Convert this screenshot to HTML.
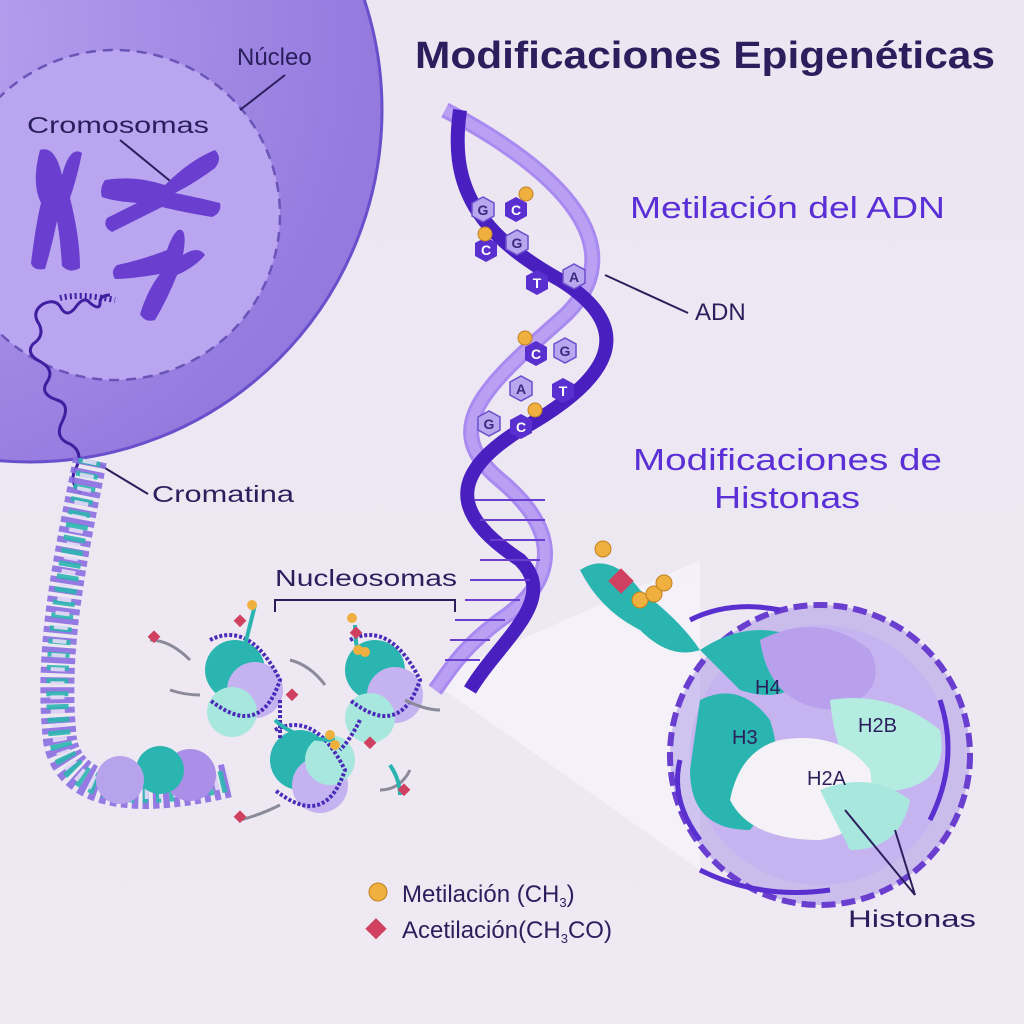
<!DOCTYPE html>
<html><head><meta charset="utf-8"><style>
html,body{margin:0;padding:0;background:#ece7f1;}
svg{display:block}
text{font-family:"Liberation Sans",sans-serif}
</style></head><body>
<svg width="1024" height="1024" viewBox="0 0 1024 1024" xmlns="http://www.w3.org/2000/svg">
<defs>
<radialGradient id="cell" cx="0.3" cy="0.4" r="0.7">
<stop offset="0" stop-color="#bba6f0"/><stop offset="1" stop-color="#9479de"/></radialGradient>
<linearGradient id="bg" x1="0" y1="0" x2="0" y2="1"><stop offset="0" stop-color="#ebe6f1"/><stop offset="1" stop-color="#eee9f3"/></linearGradient>
</defs>
<rect width="1024" height="1024" fill="url(#bg)"/>
<polygon points="430,680 700,560 700,870" fill="#f6f3f9" opacity="0.8"/>
<circle cx="30" cy="110" r="352" fill="url(#cell)" stroke="#6a4fcc" stroke-width="3"/>
<circle cx="115" cy="215" r="165" fill="#b9a5f0" stroke="#6a54b8" stroke-width="2.5" stroke-dasharray="10,7"/>
<text x="237" y="65" font-size="24" fill="#2a1f5c">Núcleo</text>
<line x1="285" y1="75" x2="240" y2="110" stroke="#2a1f5c" stroke-width="2"/>
<text x="27" y="133" font-size="23" fill="#2a1f5c" textLength="182" lengthAdjust="spacingAndGlyphs">Cromosomas</text>
<line x1="120" y1="140" x2="175" y2="185" stroke="#2a1f5c" stroke-width="2"/>
<g fill="#6a3fd0">
<path d="M40,150 q15,-5 22,25 q8,-30 20,-22 q-5,25 -12,45 q10,40 10,70 q-10,6 -18,-2 q-2,-30 -5,-45 q-5,25 -12,48 q-12,2 -14,-6 q5,-40 10,-60 q-10,-20 -1,-53z"/>
<path d="M105,180 q30,-5 60,5 q25,-25 50,-35 q8,8 0,18 q-20,15 -40,25 q25,5 45,10 q2,10 -8,14 q-30,-5 -50,-10 q-30,15 -50,25 q-10,-5 -5,-14 q20,-10 30,-15 q-25,-2 -35,-6 q-3,-8 3,-17z"/>
<path d="M178,230 q10,-3 5,25 q15,-10 22,0 q-10,12 -28,20 q-10,25 -22,45 q-10,3 -15,-6 q8,-25 20,-40 q-30,5 -45,5 q-5,-8 2,-14 q25,-5 50,-15 q5,-15 11,-20z"/>
</g>
<path d="M110,295 q-10,0 -10,8 q0,8 -10,0 q-6,-8 -15,5 q-8,10 -14,0 q-5,-10 -18,-4 q-12,8 -4,20 q6,12 -6,20 q-8,10 8,18 q14,8 6,20 q-8,12 10,18 q14,4 5,22 q-8,16 8,22 q14,8 6,24 q-8,14 5,25" fill="none" stroke="#3d1fa0" stroke-width="3"/>
<path d="M60,298 q20,-5 55,2" fill="none" stroke="#3d1fa0" stroke-width="6" stroke-dasharray="2,3"/>
<text x="152" y="502" font-size="23" fill="#2a1f5c" textLength="142" lengthAdjust="spacingAndGlyphs">Cromatina</text>
<line x1="148" y1="494" x2="95" y2="462" stroke="#2a1f5c" stroke-width="2"/>
<g>
<path d="M90,460 C70,560 50,650 60,740 C70,800 150,800 230,780" fill="none" stroke="#8a6ee0" stroke-width="34" stroke-dasharray="6,4" opacity="0.9"/>
<path d="M90,460 C70,560 50,650 60,740 C70,800 150,800 230,780" fill="none" stroke="#2bb5b0" stroke-width="22" stroke-dasharray="5,8" opacity="0.9"/>
<path d="M90,460 C70,560 50,650 60,740 C70,800 150,800 230,780" fill="none" stroke="#e4dcf5" stroke-width="14" stroke-dasharray="4,10" opacity="0.9"/>
<circle cx="190" cy="775" r="26" fill="#a98fe8"/><circle cx="160" cy="770" r="24" fill="#2bb5b0"/><circle cx="120" cy="780" r="24" fill="#b7a2ec"/>
</g>
<text x="275" y="586" font-size="23" fill="#2a1f5c" textLength="182" lengthAdjust="spacingAndGlyphs">Nucleosomas</text>
<path d="M275,612 v-12 h180 v12" fill="none" stroke="#2a1f5c" stroke-width="2"/>
<g>
<circle cx="235" cy="670" r="30" fill="#2bb5b0"/><circle cx="255" cy="690" r="28" fill="#c4b3f0"/><circle cx="232" cy="712" r="25" fill="#a8e7dd"/>
<circle cx="375" cy="670" r="30" fill="#2bb5b0"/><circle cx="395" cy="695" r="28" fill="#c4b3f0"/><circle cx="370" cy="718" r="25" fill="#a8e7dd"/>
<circle cx="300" cy="760" r="30" fill="#2bb5b0"/><circle cx="320" cy="785" r="28" fill="#c4b3f0"/><circle cx="330" cy="760" r="25" fill="#a8e7dd"/>
<path d="M210,640 q40,-20 70,40 q-20,60 -70,20 M350,640 q40,-20 70,40 q-20,60 -70,20 M275,730 q40,-20 70,40 q-20,60 -70,20 M280,700 q0,30 0,40 M360,720 q-10,20 -20,30" fill="none" stroke="#4a2ab8" stroke-width="4" stroke-dasharray="3,2"/>
<g fill="none" stroke="#8a8a9a" stroke-width="3">
<path d="M150,640 q20,0 40,20"/><path d="M170,690 q15,5 30,5"/><path d="M290,660 q20,5 35,25"/><path d="M440,710 q-15,0 -35,-10"/><path d="M240,820 q20,-5 40,-15"/><path d="M380,790 q20,0 30,-20"/>
</g>
<g fill="none" stroke="#2bb5b0" stroke-width="4"><path d="M255,605 q-5,20 -10,40"/><path d="M355,625 q0,20 5,35"/><path d="M335,740 q-40,0 -60,-20"/><path d="M400,795 q0,-15 -10,-30"/></g>
<g fill="#d04060"><rect x="150" y="632" width="9" height="9" transform="rotate(45 154 636)"/><rect x="236" y="616" width="9" height="9" transform="rotate(45 240 620)"/><rect x="288" y="690" width="9" height="9" transform="rotate(45 292 694)"/><rect x="236" y="812" width="9" height="9" transform="rotate(45 240 816)"/><rect x="400" y="785" width="9" height="9" transform="rotate(45 404 789)"/><rect x="352" y="628" width="9" height="9" transform="rotate(45 356 632)"/><rect x="366" y="738" width="9" height="9" transform="rotate(45 370 742)"/></g>
<g fill="#f0b040"><circle cx="252" cy="605" r="5"/><circle cx="352" cy="618" r="5"/><circle cx="358" cy="650" r="5"/><circle cx="365" cy="652" r="5"/><circle cx="330" cy="735" r="5"/><circle cx="335" cy="745" r="5"/></g>
</g>
<g fill="none">
<path d="M445,110 C560,170 640,250 560,320 C480,390 440,430 500,480 C560,530 560,580 500,620 C460,650 450,670 435,690" stroke="#a88af0" stroke-width="16"/>
<path d="M445,110 C560,170 640,250 560,320 C480,390 440,430 500,480 C560,530 560,580 500,620 C460,650 450,670 435,690" stroke="#b9a0f3" stroke-width="10"/>
<path d="M460,110 C450,180 470,230 560,280 C640,330 610,380 520,430 C440,480 460,520 520,560 C560,600 500,640 470,690" stroke="#4a1fc0" stroke-width="14"/>
<path d="M475,500 h70 M480,520 h65 M490,540 h55 M480,560 h60 M470,580 h60 M465,600 h55 M455,620 h50 M450,640 h40 M445,660 h35" stroke="#6a3fd0" stroke-width="2"/>
</g>
<g font-size="14" font-weight="bold" text-anchor="middle">
<g fill="#b8a6ee" stroke="#6a4fcc" stroke-width="1.5"><polygon points="472,203 483,197 494,203 494,216 483,222 472,216"/><polygon points="506,236 517,230 528,236 528,249 517,255 506,249"/><polygon points="554,344 565,338 576,344 576,357 565,363 554,357"/><polygon points="510,382 521,376 532,382 532,395 521,401 510,395"/><polygon points="478,417 489,411 500,417 500,430 489,436 478,430"/><polygon points="563,270 574,264 585,270 585,283 574,289 563,283"/></g>
<g fill="#5a2fd0"><polygon points="505,203 516,197 527,203 527,216 516,222 505,216"/><polygon points="475,243 486,237 497,243 497,256 486,262 475,256"/><polygon points="526,276 537,270 548,276 548,289 537,295 526,289"/><polygon points="525,347 536,341 547,347 547,360 536,366 525,360"/><polygon points="552,384 563,378 574,384 574,397 563,403 552,397"/><polygon points="510,420 521,414 532,420 532,433 521,439 510,433"/></g>
<text x="483" y="215" fill="#3a2a80">G</text><text x="516" y="215" fill="#fff">C</text><text x="486" y="255" fill="#fff">C</text><text x="517" y="248" fill="#3a2a80">G</text><text x="537" y="288" fill="#fff">T</text><text x="574" y="282" fill="#3a2a80">A</text><text x="536" y="359" fill="#fff">C</text><text x="565" y="356" fill="#3a2a80">G</text><text x="521" y="394" fill="#3a2a80">A</text><text x="563" y="396" fill="#fff">T</text><text x="489" y="429" fill="#3a2a80">G</text><text x="521" y="432" fill="#fff">C</text>
</g>
<g fill="#f0b040" stroke="#c08020"><circle cx="526" cy="194" r="7"/><circle cx="485" cy="234" r="7"/><circle cx="525" cy="338" r="7"/><circle cx="535" cy="410" r="7"/></g>
<line x1="605" y1="275" x2="688" y2="313" stroke="#2a1f5c" stroke-width="2"/>
<text x="695" y="320" font-size="24" fill="#2a1f5c">ADN</text>
<text x="415" y="68" font-size="38" font-weight="bold" fill="#2a1f5c" textLength="580" lengthAdjust="spacingAndGlyphs">Modificaciones Epigenéticas</text>
<text x="630" y="218" font-size="31" fill="#5b2fd6" textLength="315" lengthAdjust="spacingAndGlyphs">Metilación del ADN</text>
<text x="633" y="470" font-size="31" fill="#5b2fd6" textLength="309" lengthAdjust="spacingAndGlyphs">Modificaciones de</text>
<text x="714" y="508" font-size="31" fill="#5b2fd6" textLength="146" lengthAdjust="spacingAndGlyphs">Histonas</text>
<g>
<circle cx="820" cy="755" r="150" fill="#8a6ee0" opacity="0.35"/>
<circle cx="820" cy="755" r="150" fill="none" stroke="#6a3fd0" stroke-width="6" stroke-dasharray="14,6"/>
<circle cx="820" cy="755" r="130" fill="#c6b4f0"/>
<path d="M700,650 q60,-40 120,0 q-20,60 -80,40 z" fill="#2bb5b0"/>
<path d="M700,700 q40,-20 70,20 q20,60 -20,110 q-60,0 -60,-60z" fill="#2bb5b0"/>
<path d="M760,640 q60,-30 110,10 q20,40 -30,60 q-70,0 -80,-70z" fill="#b8a0ec"/>
<path d="M830,700 q60,-10 110,30 q10,50 -40,60 q-60,10 -70,-90z" fill="#b5ece2"/>
<path d="M780,740 q60,-10 90,30 q10,60 -50,70 q-70,0 -90,-40 q10,-50 50,-60z" fill="#f4f2f6"/>
<path d="M820,790 q50,-20 90,10 q-10,50 -60,50 z" fill="#a8e7dd"/>
<path d="M580,570 q30,-20 60,20 q40,30 60,60 q-30,10 -60,-20 q-40,-20 -60,-60z" fill="#2bb5b0"/>
<path d="M690,620 q40,-20 90,-10 M700,870 q60,30 130,20 M680,760 q-10,40 20,80 M940,700 q20,60 -10,120" fill="none" stroke="#5a2fd0" stroke-width="5"/>
<rect x="612" y="572" width="18" height="18" fill="#d04060" transform="rotate(45 621 581)"/>
<g fill="#f0b040" stroke="#c08020"><circle cx="603" cy="549" r="8"/><circle cx="640" cy="600" r="8"/><circle cx="654" cy="594" r="8"/><circle cx="664" cy="583" r="8"/></g>
<text x="755" y="694" font-size="20" fill="#2a1f5c">H4</text>
<text x="732" y="744" font-size="20" fill="#2a1f5c">H3</text>
<text x="858" y="732" font-size="20" fill="#2a1f5c">H2B</text>
<text x="807" y="785" font-size="20" fill="#2a1f5c">H2A</text>
<path d="M845,810 L915,895 M895,830 L915,895" stroke="#2a1f5c" stroke-width="2" fill="none"/>
</g>
<text x="848" y="927" font-size="24" fill="#2a1f5c" textLength="128" lengthAdjust="spacingAndGlyphs">Histonas</text>
<circle cx="378" cy="892" r="9" fill="#f0b040" stroke="#c08020"/>
<text x="402" y="902" font-size="24" fill="#2a1f5c">Metilación (CH<tspan font-size="13" dy="5">3</tspan><tspan dy="-5">)</tspan></text>
<rect x="369" y="921" width="15" height="15" fill="#d04060" transform="rotate(45 376 928)"/>
<text x="402" y="938" font-size="24" fill="#2a1f5c">Acetilación(CH<tspan font-size="13" dy="5">3</tspan><tspan dy="-5">CO)</tspan></text>
</svg>
</body></html>
